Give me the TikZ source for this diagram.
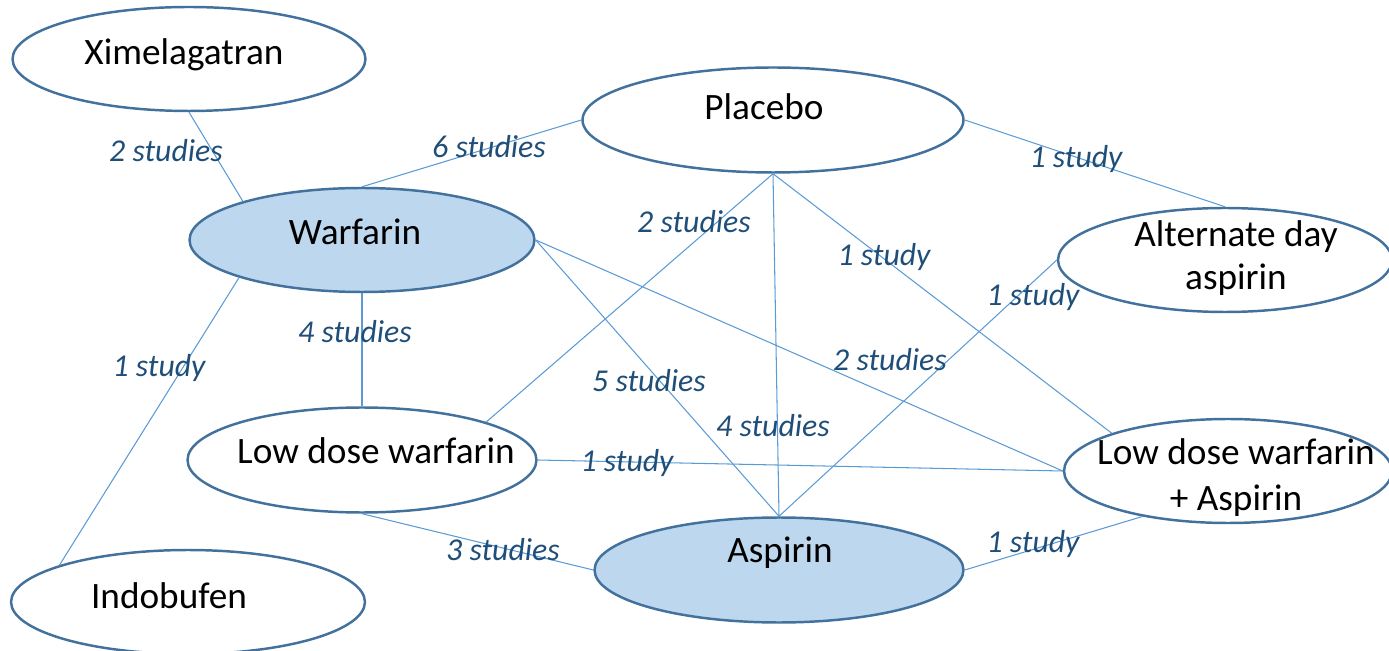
\documentclass[tikz,border=0pt]{standalone}
\usepackage{fontspec}
\setmainfont{Carlito}
\usetikzlibrary{shapes.geometric}
\definecolor{edgeblue}{HTML}{5B9BD5}
\definecolor{rimblue}{HTML}{41719C}
\definecolor{fillblue}{HTML}{BDD7EE}
\definecolor{labblue}{HTML}{1F4E79}
\tikzset{
  oval/.style={ellipse, draw=rimblue, line width=1.4pt, fill=white, inner sep=0pt},
  hl/.style={oval, fill=fillblue},
  conn/.style={draw=edgeblue, line width=0.6pt},
  nodetext/.style={anchor=base, font=\fontsize{21.2}{25}\selectfont, text=black, inner sep=0pt, align=center},
  lab/.style={anchor=base, font=\fontsize{18.1}{22}\selectfont\itshape, text=labblue, inner sep=0pt}
}
\begin{document}
\begin{tikzpicture}[x=0.02cm, y=-0.02cm]
\useasboundingbox (0,0) rectangle (1389,651);
% ellipses
\node[oval, minimum width=7.06cm, minimum height=2.08cm] (xim) at (189,59) {};
\node[oval, minimum width=7.62cm, minimum height=2.10cm] (pla) at (773,120) {};
\node[hl, minimum width=6.90cm, minimum height=2.08cm] (war) at (362,240) {};
\node[oval, minimum width=6.68cm, minimum height=2.08cm] (alt) at (1225,260) {};
\node[oval, minimum width=6.98cm, minimum height=2.10cm] (ldw) at (362,460) {};
\node[oval, minimum width=6.56cm, minimum height=2.08cm] (ldwa) at (1228,471) {};
\node[hl, minimum width=7.38cm, minimum height=2.10cm] (asp) at (779,570) {};
\node[oval, minimum width=7.08cm, minimum height=2.08cm] (ind) at (188,602) {};
% connectors
\draw[conn] (xim.south) -- (war.162);
\draw[conn] (war.north) -- (pla.west);
\draw[conn] (pla.east) -- (alt.north);
\draw[conn] (war.197) -- (ind.164);
\draw[conn] (war.south) -- (ldw.north);
\draw[conn] (war.east) -- (asp.north);
\draw[conn] (war.east) -- (ldwa.west);
\draw[conn] (pla.south) -- (ldw.17);
\draw[conn] (pla.south) -- (asp.north);
\draw[conn] (pla.south) -- (ldwa.162);
\draw[conn] (alt.west) -- (asp.north);
\draw[conn] (ldw.east) -- (ldwa.west);
\draw[conn] (ldw.south) -- (asp.west);
\draw[conn] (asp.east) -- (ldwa.208);
% node texts
\node[nodetext] (txim) at (184,65) {Ximelagatran};
\node[nodetext] (tpla) at (764,120) {Placebo};
\node[nodetext] (twar) at (355,245) {Warfarin};
\node[nodetext] (talt1) at (1236,247) {Alternate day};
\node[nodetext] (talt2) at (1236,290) {aspirin};
\node[nodetext] (tldw) at (376,463) {Low dose warfarin};
\node[nodetext] (tldwa1) at (1236,465) {Low dose warfarin};
\node[nodetext] (tldwa2) at (1236,510) {+ Aspirin};
\node[nodetext] (tasp) at (780,562) {Aspirin};
\node[nodetext] (tind) at (169,608) {Indobufen};
% labels
\node[lab] (l1) at (166,162) {2 studies};
\node[lab] (l2) at (489,158) {6 studies};
\node[lab] (l3) at (1076,168) {1 study};
\node[lab] (l4) at (694,233) {2 studies};
\node[lab] (l5) at (884,266) {1 study};
\node[lab] (l6) at (1033,306) {1 study};
\node[lab] (l7) at (355,343) {4 studies};
\node[lab] (l8) at (159,377) {1 study};
\node[lab] (l9) at (890,371) {2 studies};
\node[lab] (l10) at (649,392) {5 studies};
\node[lab] (l11) at (773,437) {4 studies};
\node[lab] (l12) at (627,472) {1 study};
\node[lab] (l13) at (503,560) {3 studies};
\node[lab] (l14) at (1033,552) {1 study};
\end{tikzpicture}
\end{document}
